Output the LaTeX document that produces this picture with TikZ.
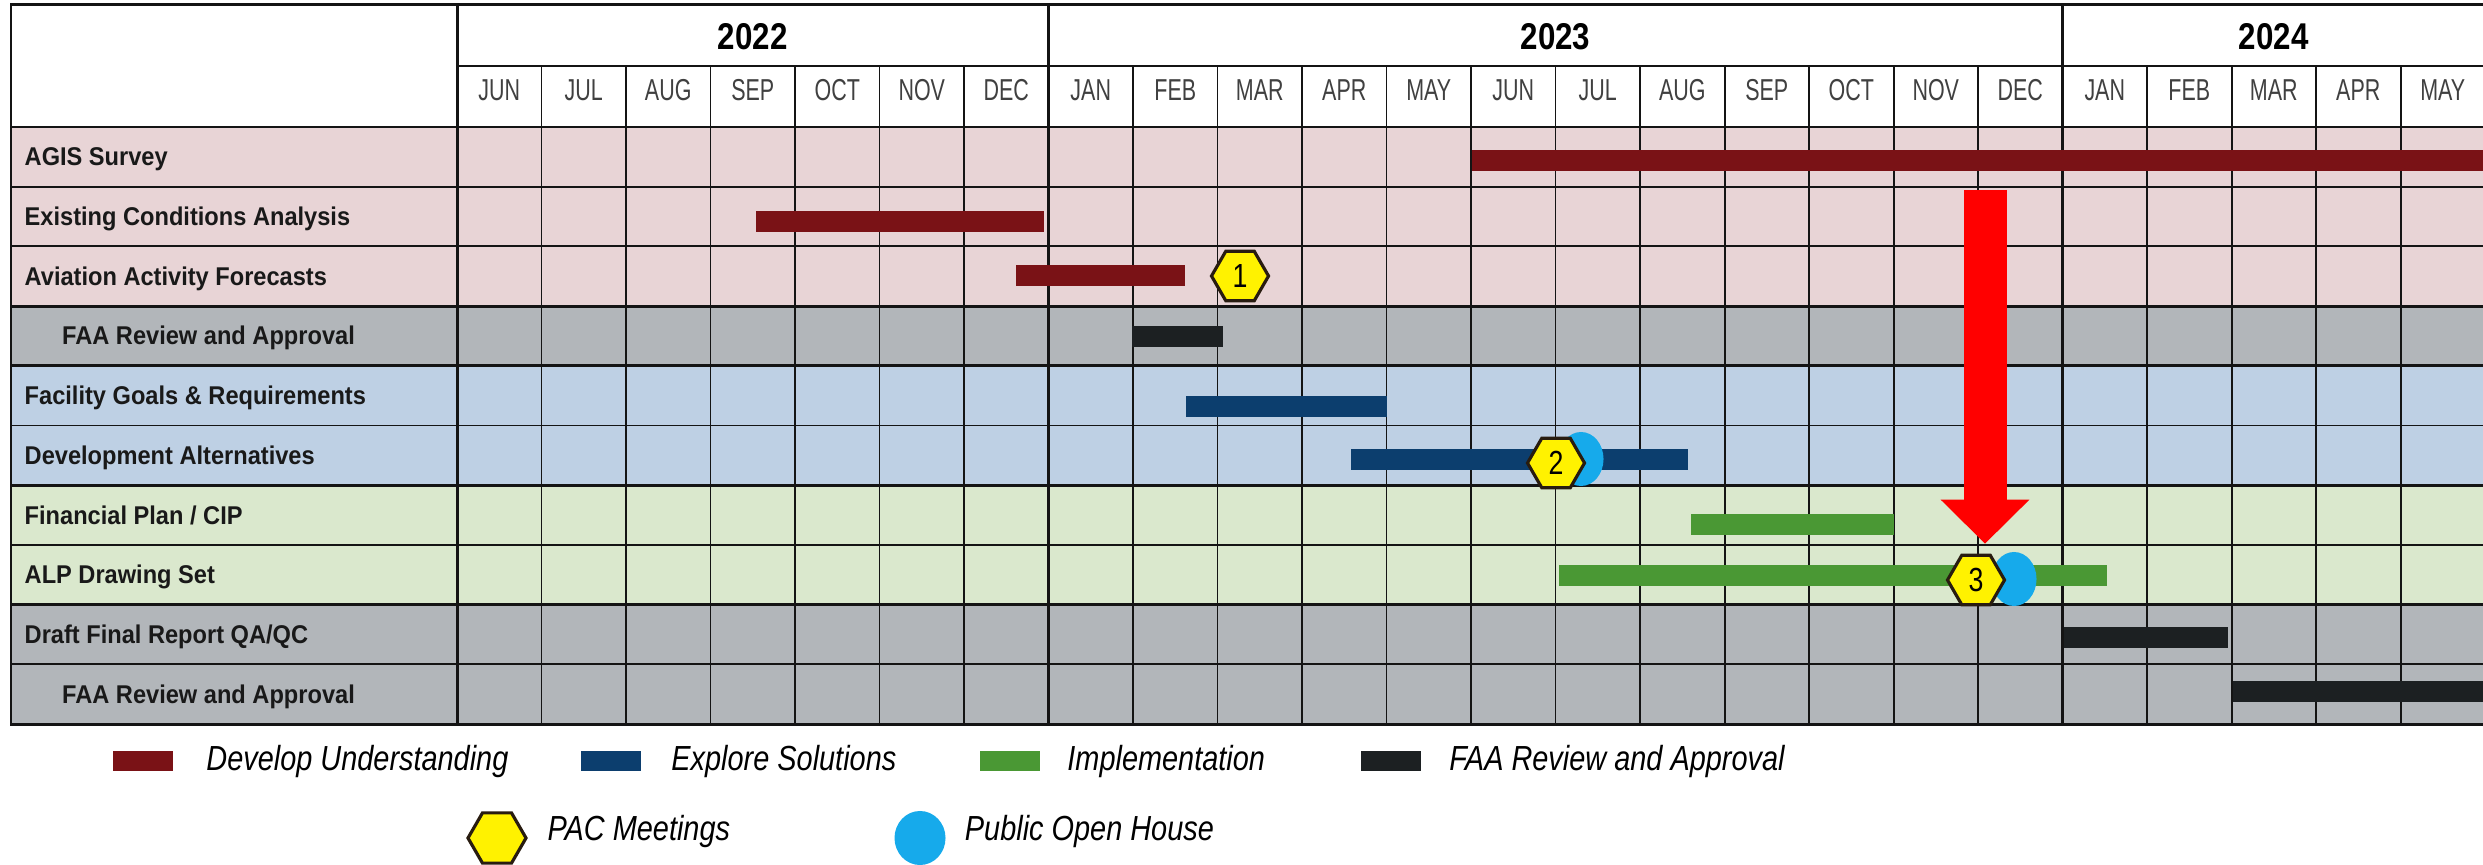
\documentclass[tikz,border=0pt]{standalone}
\usepackage{fontspec}
\usepackage{tikz}
\usetikzlibrary{shapes.geometric,arrows.meta,positioning,calc}
\setmainfont{Liberation Sans}
\newfontfamily\taskfont{Liberation Sans}[FakeStretch=0.92]
\newfontfamily\monthfont{Liberation Sans}[FakeStretch=0.71]
\newfontfamily\yearfont{Liberation Sans}[FakeStretch=0.84]
\newfontfamily\keyfont{Liberation Sans}[FakeStretch=0.83]
\newfontfamily\hexfont{Liberation Sans}[FakeStretch=0.8]
\definecolor{understandred}{RGB}{122,18,22}
\definecolor{solutionblue}{RGB}{12,62,110}
\definecolor{implgreen}{RGB}{74,152,52}
\definecolor{faablack}{RGB}{28,32,34}
\definecolor{pacyellow}{RGB}{255,242,0}
\definecolor{hexedge}{RGB}{40,28,16}
\definecolor{openblue}{RGB}{22,170,235}
\definecolor{rowpink}{RGB}{232,212,214}
\definecolor{rowgray}{RGB}{178,182,186}
\definecolor{rowblue}{RGB}{190,208,228}
\definecolor{rowgreen}{RGB}{218,232,205}
\definecolor{gridline}{RGB}{20,20,20}

\begin{document}
\begin{tikzpicture}[x=0.01cm, y=-0.01cm,
  gridln/.style={draw=gridline, line width=0.55pt},
  groupln/.style={draw=gridline, line width=0.85pt},
  tasklbl/.style={anchor=base west, inner sep=0pt, text=black!90,
                  font=\taskfont\bfseries\fontsize{7.3}{8}\selectfont},
  monlbl/.style={anchor=base, inner sep=0pt, text=black!75,
                 font=\monthfont\fontsize{8.6}{10}\selectfont},
  yearlbl/.style={anchor=base, inner sep=0pt,
                  font=\yearfont\bfseries\fontsize{10.6}{12}\selectfont},
  pachex/.style={regular polygon, regular polygon sides=6, minimum size=0.57cm,
                 inner sep=0pt, fill=pacyellow, draw=hexedge, line width=0.9pt,
                 font=\hexfont\fontsize{9.5}{10}\selectfont},
  openhouse/.style={ellipse, minimum width=0.45cm, minimum height=0.54cm,
                    inner sep=0pt, fill=openblue},
  keybox/.style={minimum width=0.6cm, minimum height=0.2cm, inner sep=0pt},
  keylbl/.style={inner sep=0pt, font=\keyfont\itshape\fontsize{9.9}{11}\selectfont},
  bigarrow/.style={red, line width=0.43cm, -{Triangle[length=0.44cm, width=0.86cm]}}
]
\def\rowh{59.7}
\def\monw{84.5}
\fill[white] (0,0) rectangle (2483,864);
\useasboundingbox (0,0) rectangle (2483,864);

%% Row backgrounds and task labels
\foreach \col/\ind/\task [count=\i] in {
    rowpink/0/AGIS Survey,
    rowpink/0/Existing Conditions Analysis,
    rowpink/0/Aviation Activity Forecasts,
    rowgray/1/FAA Review and Approval,
    rowblue/0/{Facility Goals \& Requirements},
    rowblue/0/Development Alternatives,
    rowgreen/0/{Financial Plan / CIP},
    rowgreen/0/ALP Drawing Set,
    rowgray/0/{Draft Final Report QA/QC},
    rowgray/1/FAA Review and Approval} {
  \fill[\col] (11,{127+(\i-1)*\rowh}) rectangle (2483,{127+\i*\rowh});
  \node[tasklbl] (task\i) at ({24+37.5*\ind},{127+(\i-0.5)*\rowh+9}) {\task};
}

%% Grid
\foreach \i in {1,...,9}
  \draw[gridln] (11,{127+\i*\rowh}) -- (2483,{127+\i*\rowh});
\foreach \i in {3,4,6,8}
  \draw[groupln] (11,{127+\i*\rowh}) -- (2483,{127+\i*\rowh});
\foreach \i in {1,...,23}
  \draw[gridln] ({457+\i*\monw},66) -- ({457+\i*\monw},724);
\draw[gridln] (457,66) -- (2483,66);
\draw[groupln] (11,127) -- (2483,127);
\draw[groupln] (2483,5) -- (11,5) -- (11,724) -- (2483,724);
\foreach \i in {0,7,19}
  \draw[groupln] ({457+\i*\monw},5) -- ({457+\i*\monw},724);

%% Header: years and months
\node[yearlbl] (yr2022) at (752.75,50) {2022};
\node[yearlbl] (yr2023) at (1555.5,50) {2023};
\node[yearlbl] (yr2024) at (2273.75,50) {2024};
\foreach \mon [count=\i from 0] in {JUN,JUL,AUG,SEP,OCT,NOV,DEC,JAN,FEB,MAR,APR,MAY,
                                    JUN,JUL,AUG,SEP,OCT,NOV,DEC,JAN,FEB,MAR,APR,MAY}
  \node[monlbl] (mon\i) at ({457+(\i+0.5)*\monw},101) {\mon};

%% Task bars
\foreach \yc/\from/\to/\col in {
    161/1472/2483/understandred, 222/756/1044/understandred,
    276/1016/1185/understandred, 337/1132/1223/faablack,
    406/1186/1387/solutionblue,  459/1351/1688/solutionblue,
    524/1691/1894/implgreen,     575/1559/2107/implgreen,
    637/2064/2228/faablack,      691/2233/2483/faablack}
  \fill[\col] (\from,\yc-10.5) rectangle (\to,\yc+10.5);

%% Public open houses and PAC meetings
\node[openhouse] (open2) at (1581,459) {};
\node[openhouse] (open3) at (2014,579) {};
\node[pachex] (pac1) at (1240,276) {1};
\node[pachex] (pac2) at (1556,463) {2};
\node[pachex] (pac3) at (1976,580) {3};

%% Red arrow down to PAC meeting 3
\coordinate (arrowtop) at (1985,190);
\coordinate (arrowtip) at ($(arrowtop |- pac3.north)+(0,-10)$);
\draw[bigarrow] (arrowtop) -- (arrowtip);

%% Legend
\node[keybox, fill=understandred] (keyund) at (143,761) {};
\node[keylbl, right=0.32cm of keyund] (keyundtxt) {Develop Understanding};
\node[keybox, fill=solutionblue] (keysol) at (611,761) {};
\node[keylbl, right=0.29cm of keysol] (keysoltxt) {Explore Solutions};
\node[keybox, fill=implgreen] (keyimp) at (1010,761) {};
\node[keylbl, right=0.26cm of keyimp] (keyimptxt) {Implementation};
\node[keybox, fill=faablack] (keyfaa) at (1391,761) {};
\node[keylbl, right=0.27cm of keyfaa] (keyfaatxt) {FAA Review and Approval};

\node[pachex, minimum size=0.58cm] (keypac) at (497,838) {};
\node[keylbl, right=0.19cm of keypac, yshift=0.07cm] (keypactxt) {PAC Meetings};
\node[openhouse, minimum width=0.51cm] (keyopen) at (920,838) {};
\node[keylbl, right=0.18cm of keyopen, yshift=0.07cm] (keyopentxt) {Public Open House};

\end{tikzpicture}
\end{document}
